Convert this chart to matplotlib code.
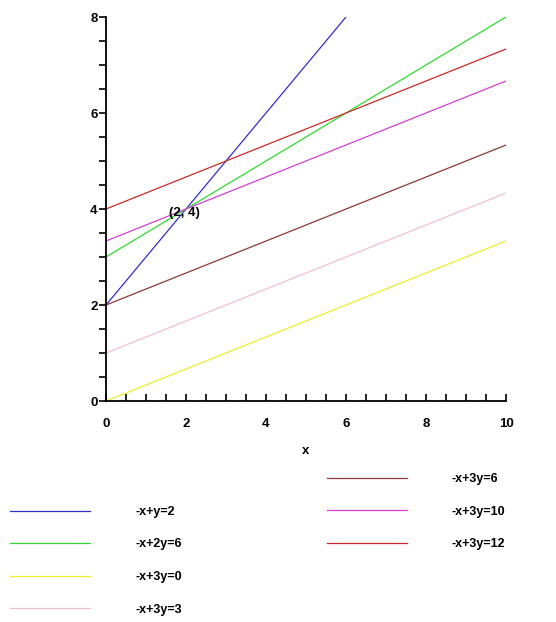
import matplotlib
matplotlib.use("Agg")
import matplotlib.pyplot as plt
from matplotlib.ticker import MultipleLocator

labels = ["-x+y=2", "-x+2y=6", "-x+3y=0", "-x+3y=3", "-x+3y=6", "-x+3y=10", "-x+3y=12"]
colors = ["#3030cc", "#30d830", "#ecec30", "#f0c0d0", "#8e3838", "#d040d0", "#c82828"]
x_start = [0, 0, 0, 0, 0, 0, 0]
x_end = [6, 10, 10, 10, 10, 10, 10]
y_start = [2, 3, 0, 1, 2, 3.333, 4]
y_end = [8, 8, 3.333, 4.333, 5.333, 6.667, 7.333]
point = (2, 4)
point_label = "(2, 4)"

plt.rcParams['font.family'] = ['Liberation Sans', 'DejaVu Sans']
plt.rcParams['font.weight'] = 'bold'

fig = plt.figure(figsize=(5.56, 6.22), dpi=100)
ax = fig.add_axes([106/556, 1-401/622, 400/556, 384/622])

handles = []
for lab, c, xa, xb, ya, yb in zip(labels, colors, x_start, x_end, y_start, y_end):
    h, = ax.plot([xa, xb], [ya, yb], color=c, lw=0.9, label=lab)
    handles.append(h)

ax.text(point[0] - 0.05, point[1] - 0.08, point_label, ha='center', va='center', fontsize=9.5, fontweight='bold')

ax.set_xlim(0, 10)
ax.set_ylim(0, 8)
ax.spines['top'].set_visible(False)
ax.spines['right'].set_visible(False)
for s in ['left', 'bottom']:
    ax.spines[s].set_linewidth(1.3)
ax.xaxis.set_major_locator(MultipleLocator(2))
ax.xaxis.set_minor_locator(MultipleLocator(0.5))
ax.yaxis.set_major_locator(MultipleLocator(2))
ax.yaxis.set_minor_locator(MultipleLocator(0.5))
ax.tick_params(axis='x', which='both', direction='in', length=5, width=1.2, labelsize=9.5, pad=12)
ax.tick_params(axis='y', which='both', direction='out', length=5, width=1.2, labelsize=9.5, pad=1)
for t in ax.get_xticklabels() + ax.get_yticklabels():
    t.set_fontweight('bold')
ax.set_xlabel("x", fontsize=9.5, fontweight='bold', labelpad=11)

fs_pt = 9
fs_px = fs_pt * 100 / 72
leg_kw = dict(frameon=False, handlelength=80 / fs_px, handletextpad=45 / fs_px, labelspacing=1.64,
              prop={'weight': 'bold', 'size': fs_pt}, borderaxespad=0, borderpad=0)
fig.legend(handles[:4], labels[:4], loc='upper left', bbox_to_anchor=(10/556, 1-506/622), **leg_kw)
fig.legend(handles[4:], labels[4:], loc='upper left', bbox_to_anchor=(327/556, 1-473/622), **leg_kw)

fig.savefig("out.png", dpi=100)
